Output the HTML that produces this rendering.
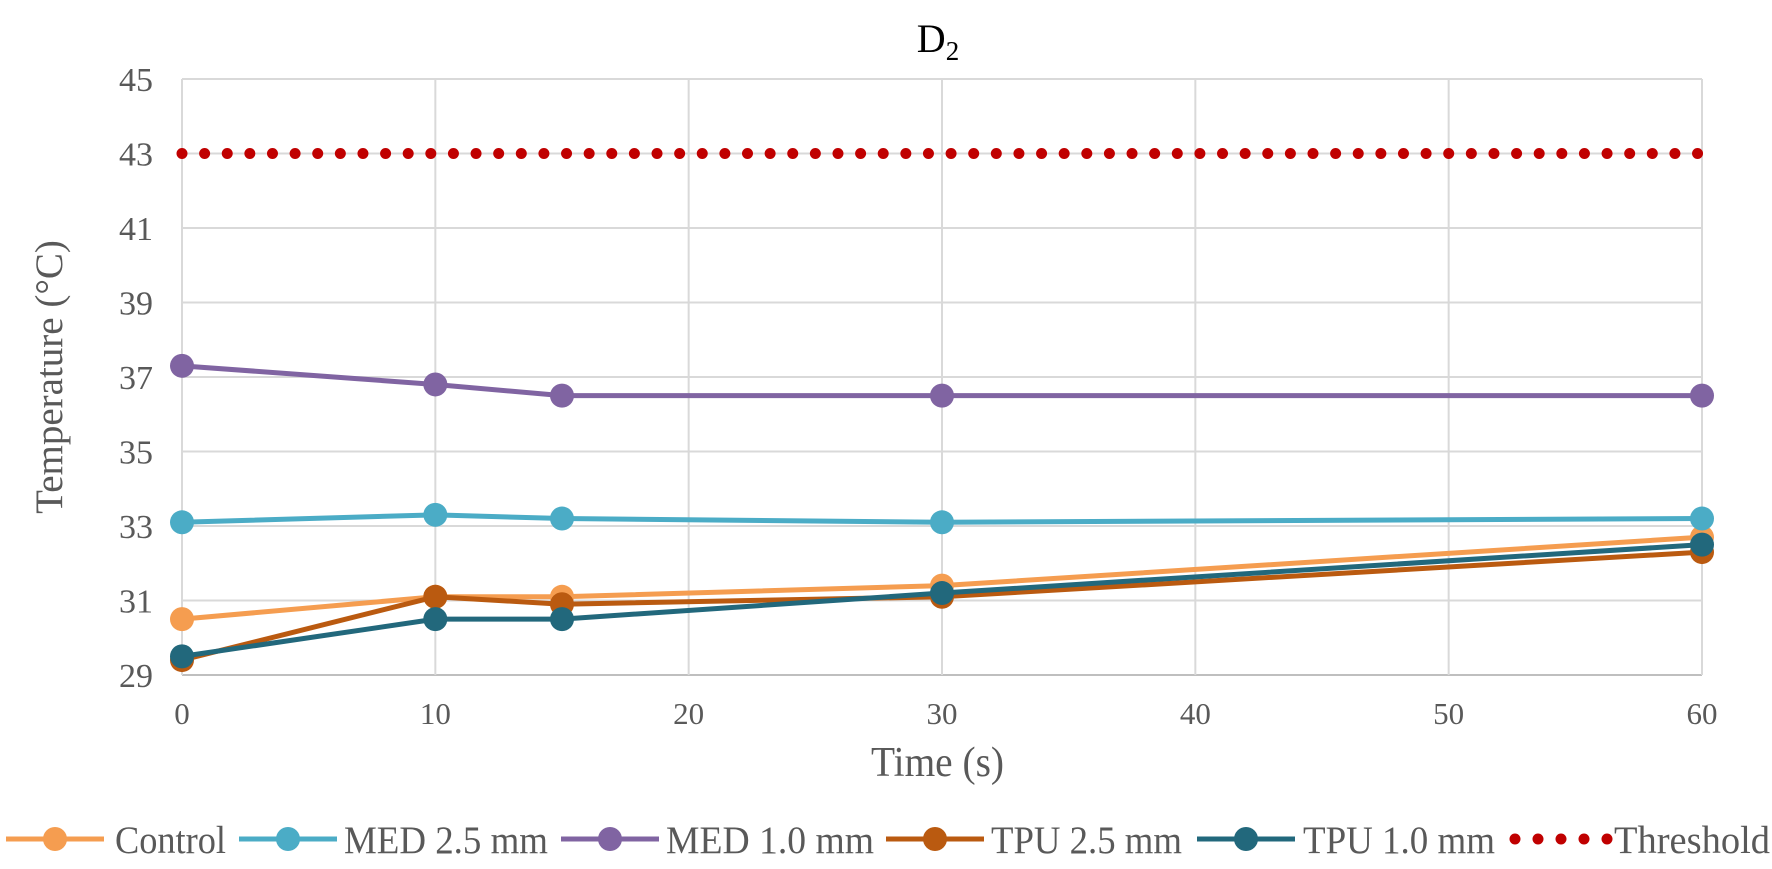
<!DOCTYPE html>
<html><head><meta charset="utf-8"><style>
html,body{margin:0;padding:0;background:#fff;}
svg{display:block;font-family:"Liberation Serif",serif;}
</style></head><body>
<svg id="chart" width="1772" height="869" viewBox="0 0 1772 869" xmlns="http://www.w3.org/2000/svg">
<g id="grid"></g>
<g id="series"></g>
<g id="labels"></g>
<text x="938" y="52" text-anchor="middle" font-size="40" fill="#000">D<tspan font-size="27" dy="8">2</tspan></text>
<text x="871" y="776" font-size="42" fill="#595959" textLength="133" lengthAdjust="spacingAndGlyphs">Time (s)</text>
<text transform="translate(62,377) rotate(-90)" text-anchor="middle" font-size="39" fill="#595959">Temperature (°C)</text>
<g id="legend"></g>
</svg>
<script>
const times=[0,10,15,30,60];
const control=[30.5,31.1,31.1,31.4,32.7];
const med25=[33.1,33.3,33.2,33.1,33.2];
const med10=[37.3,36.8,36.5,36.5,36.5];
const tpu25=[29.4,31.1,30.9,31.1,32.3];
const tpu10=[29.5,30.5,30.5,31.2,32.5];
const threshold=[43,43,43,43,43];
const yTicks=[29,31,33,35,37,39,41,43,45];
const xTicks=[0,10,20,30,40,50,60];
const seriesNames=["Control","MED 2.5 mm","MED 1.0 mm","TPU 2.5 mm","TPU 1.0 mm","Threshold"];

const NS="http://www.w3.org/2000/svg";
const X0=182,X1=1702,Y0=675,Y1=79;
const xs=v=>X0+(v-0)/(60-0)*(X1-X0);
const ys=v=>Y0-(v-29)/(45-29)*(Y0-Y1);
function mk(tag,attrs,parent){const e=document.createElementNS(NS,tag);for(const k in attrs)e.setAttribute(k,attrs[k]);parent.appendChild(e);return e;}
const grid=document.getElementById('grid'),ser=document.getElementById('series'),lab=document.getElementById('labels'),leg=document.getElementById('legend');

yTicks.forEach(t=>{
  const l=mk('line',{x1:X0,x2:X1,y1:ys(t),y2:ys(t),stroke:t===29?'#BFBFBF':'#D9D9D9','stroke-width':2},grid);
  
  
  const tx=mk('text',{x:153,y:ys(t)+12,'text-anchor':'end','font-size':34,fill:'#595959'},lab);
  tx.textContent=t;
  
  
});
xTicks.forEach(t=>{
  const l=mk('line',{x1:xs(t),x2:xs(t),y1:Y1,y2:Y0,stroke:'#D9D9D9','stroke-width':2},grid);
  
  
  const tx=mk('text',{x:xs(t),y:724,'text-anchor':'middle','font-size':31,fill:'#595959'},lab);
  tx.textContent=t;
  
  
});

const colors=["#F59D50","#4BACC6","#8064A2","#BA5A10","#22687C"];
const data=[control,med25,med10,tpu25,tpu10];
const keys=["control","med-2-5","med-1-0","tpu-2-5","tpu-1-0"];
data.forEach((vals,i)=>{
  const pts=times.map((t,j)=>xs(t)+','+ys(vals[j])).join(' ');
  const pl=mk('polyline',{points:pts,fill:'none',stroke:colors[i],'stroke-width':5,'stroke-linejoin':'round'},ser);
  
  
  times.forEach((t,j)=>{
    const c=mk('circle',{cx:xs(t),cy:ys(vals[j]),r:12,fill:colors[i]},ser);
    
    
  });
});
const tp=times.map((t,j)=>xs(t)+','+ys(threshold[j])).join(' ');
const th=mk('polyline',{points:tp,fill:'none',stroke:'#C00000','stroke-width':11,'stroke-linecap':'round','stroke-dasharray':'0 22.62'},ser);



// legend
const legItems=[[6,115,111],[239,344,204],[561,666,208],[886,991,191],[1197,1303,192],[1507,1614,156]];
seriesNames.forEach((n,i)=>{
  const g=mk('g',{},leg);
  
  
  const [lx,tx,tw]=legItems[i];
  if(i<5){
    mk('line',{x1:lx,x2:lx+98,y1:839,y2:839,stroke:colors[i],'stroke-width':5},g);
    mk('circle',{cx:lx+49,cy:839,r:12,fill:colors[i]},g);
  } else {
    for(let k=0;k<5;k++){
      mk('circle',{cx:lx+8+k*23,cy:839,r:5.5,fill:'#C00000'},g);
    }
  }
  const t=mk('text',{x:tx,y:853,'font-size':39,fill:'#595959',textLength:tw,lengthAdjust:'spacingAndGlyphs'},g);
  t.textContent=n;
});
</script>
</body></html>
